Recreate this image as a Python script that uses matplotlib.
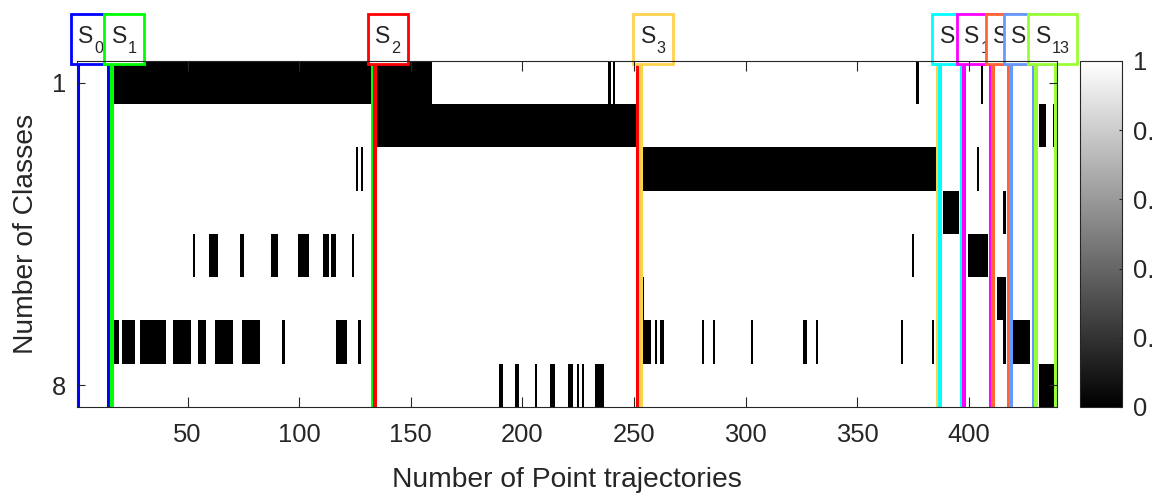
import numpy as np
import matplotlib
matplotlib.use('Agg')
import matplotlib.pyplot as plt
from matplotlib.patches import Rectangle
from matplotlib.transforms import IdentityTransform, blended_transform_factory, offset_copy

plt.rcParams['font.family'] = ['Liberation Sans', 'DejaVu Sans']

# ---------------- data ----------------
n_trajectories = 439
n_classes = 8

# black (value 0) runs of point trajectories for each class row: (first, last)
class_1_black = [(17, 159), (239, 239), (241, 241), (377, 377), (406, 406)]
class_2_black = [(135, 252), (432, 434), (438, 438)]
class_3_black = [(126, 126), (128, 128), (254, 385), (404, 404)]
class_4_black = [(389, 395), (416, 416)]
class_5_black = [(53, 53), (60, 63), (74, 75), (88, 90), (100, 104), (111, 113),
                 (115, 116), (124, 124), (375, 375), (400, 408)]
class_6_black = [(254, 254), (413, 416)]
class_7_black = [(17, 19), (21, 26), (29, 40), (44, 51), (55, 58), (63, 70), (75, 82),
                 (93, 93), (117, 121), (127, 127), (254, 257), (260, 260), (262, 263),
                 (281, 281), (286, 286), (303, 303), (326, 327), (332, 332), (370, 370),
                 (384, 384), (416, 416), (420, 427)]
class_8_black = [(190, 191), (197, 198), (206, 206), (213, 214), (221, 222), (225, 225),
                 (227, 227), (233, 236), (432, 439)]

segment_names = ['0', '1', '2', '3', '9', '10', '11', '12', '13']
segment_starts = [1, 16, 134, 253, 387, 398, 411, 419, 430]
segment_ends = [15, 133, 252, 386, 397, 410, 418, 429, 439]
segment_colors = ['#0000FF', '#00FF00', '#FF0000', '#FFD24D', '#00FFFF',
                  '#FF00FF', '#FF6633', '#6699FF', '#99FF33']

x_ticks = [50, 100, 150, 200, 250, 300, 350, 400]
y_ticks = [1, 8]
cbar_ticks = [0, 0.2, 0.4, 0.6, 0.8, 1]
cbar_ticklabels = ['0', '0.2', '0.4', '0.6', '0.8', '1']

# build matrix
rows = [class_1_black, class_2_black, class_3_black, class_4_black,
        class_5_black, class_6_black, class_7_black, class_8_black]
M = np.ones((n_classes, n_trajectories))
for r, runs in enumerate(rows):
    for a, b in runs:
        M[r, a - 1:b] = 0.0

# ---------------- figure ----------------
W, H, DPI = 1152, 493, 100
fig = plt.figure(figsize=(W / DPI, H / DPI), dpi=DPI)
fig.patch.set_facecolor('white')

ax_l, ax_r, ax_t, ax_b = 77, 1057, 61, 407
ax = fig.add_axes([ax_l / W, 1 - ax_b / H, (ax_r - ax_l) / W, (ax_b - ax_t) / H])
im = ax.imshow(M, cmap='gray', vmin=0, vmax=1, aspect='auto', interpolation='nearest',
               extent=(0.5, n_trajectories + 0.5, n_classes + 0.5, 0.5), zorder=0)
ax.set_xlim(0.5, n_trajectories + 0.5)
ax.set_ylim(n_classes + 0.5, 0.5)
ax.set_axisbelow(False)

axis_col = '#262626'
ax.set_xticks(x_ticks)
ax.set_yticks(y_ticks)
ax.set_yticklabels([str(v) for v in y_ticks])
ax.tick_params(axis='x', direction='in', top=True, bottom=True, length=7.5, width=0.8,
               color=axis_col, labelcolor=axis_col, labelsize=18.4, pad=11.5)
ax.tick_params(axis='y', direction='in', left=True, right=True, length=6, width=0.8,
               color=axis_col, labelcolor=axis_col, labelsize=18.4, pad=8)
for s in ax.spines.values():
    s.set_color(axis_col)
    s.set_linewidth(0.8)

ax.set_xlabel('Number of Point trajectories', fontsize=20.3, color=axis_col)
ax.xaxis.set_label_coords(0.5, -(486.7 - ax_b) / (ax_b - ax_t))
ax.xaxis.label.set_va('baseline')
ax.set_ylabel('Number of Classes', fontsize=20.3, color=axis_col)
ax.yaxis.set_label_coords((33.5 - ax_l) / (ax_r - ax_l), 0.5)
ax.yaxis.label.set_va('baseline')

# segment boundary lines
for i, (s0, s1, c) in enumerate(zip(segment_starts, segment_ends, segment_colors)):
    ax.axvline(s0, color=c, lw=2.9, zorder=1.0 + 0.02 * i)
    ax.axvline(s1, color=c, lw=2.9, zorder=1.0 + 0.02 * i)

# labels "S" + subscript with boxes
trans = blended_transform_factory(ax.transData, ax.transAxes)
trans_txt = offset_copy(trans, fig=fig, x=0, y=17.7, units='dots')
s_texts = []
for i, s0 in enumerate(segment_starts):
    t = ax.text(s0, 1.0, 'S', transform=trans_txt, ha='left', va='baseline',
                fontsize=16.5, color=axis_col, zorder=2.02 + 0.04 * i, clip_on=False)
    s_texts.append(t)

fig.canvas.draw()
renderer = fig.canvas.get_renderer()
top_disp = H - ax_t
sub_texts = []
for i, (t, name) in enumerate(zip(s_texts, segment_names)):
    bb = t.get_window_extent(renderer)
    st = ax.text(bb.x1 + 0.8, top_disp + 7.7, name, transform=IdentityTransform(),
                 ha='left', va='baseline', fontsize=11.7, color=axis_col,
                 zorder=2.03 + 0.04 * i, clip_on=False)
    sub_texts.append(st)

fig.canvas.draw()
for i, (st, s0, c) in enumerate(zip(sub_texts, segment_starts, segment_colors)):
    bb = st.get_window_extent(renderer)
    x_line = ax.transData.transform((s0, 1))[0]
    x0 = x_line - 7.4
    x1 = bb.x1 + 7.6
    y0 = top_disp - 3.2
    y1 = top_disp + 47.2
    rect = Rectangle((x0, y0), x1 - x0, y1 - y0, transform=IdentityTransform(),
                     facecolor='white', edgecolor=c, lw=2.0, zorder=2.0 + 0.04 * i,
                     clip_on=False)
    ax.add_artist(rect)

# colorbar
cax = fig.add_axes([1080 / W, 1 - ax_b / H, 42 / W, (ax_b - ax_t) / H])
cb = fig.colorbar(im, cax=cax, ticks=cbar_ticks)
cb.set_ticklabels(cbar_ticklabels)
cb.outline.set_edgecolor(axis_col)
cb.outline.set_linewidth(0.8)
cax.tick_params(direction='in', length=2.5, width=0.8, color=axis_col,
                labelcolor=axis_col, labelsize=18.4, pad=8)

fig.savefig('out.png', dpi=DPI, facecolor='white')
